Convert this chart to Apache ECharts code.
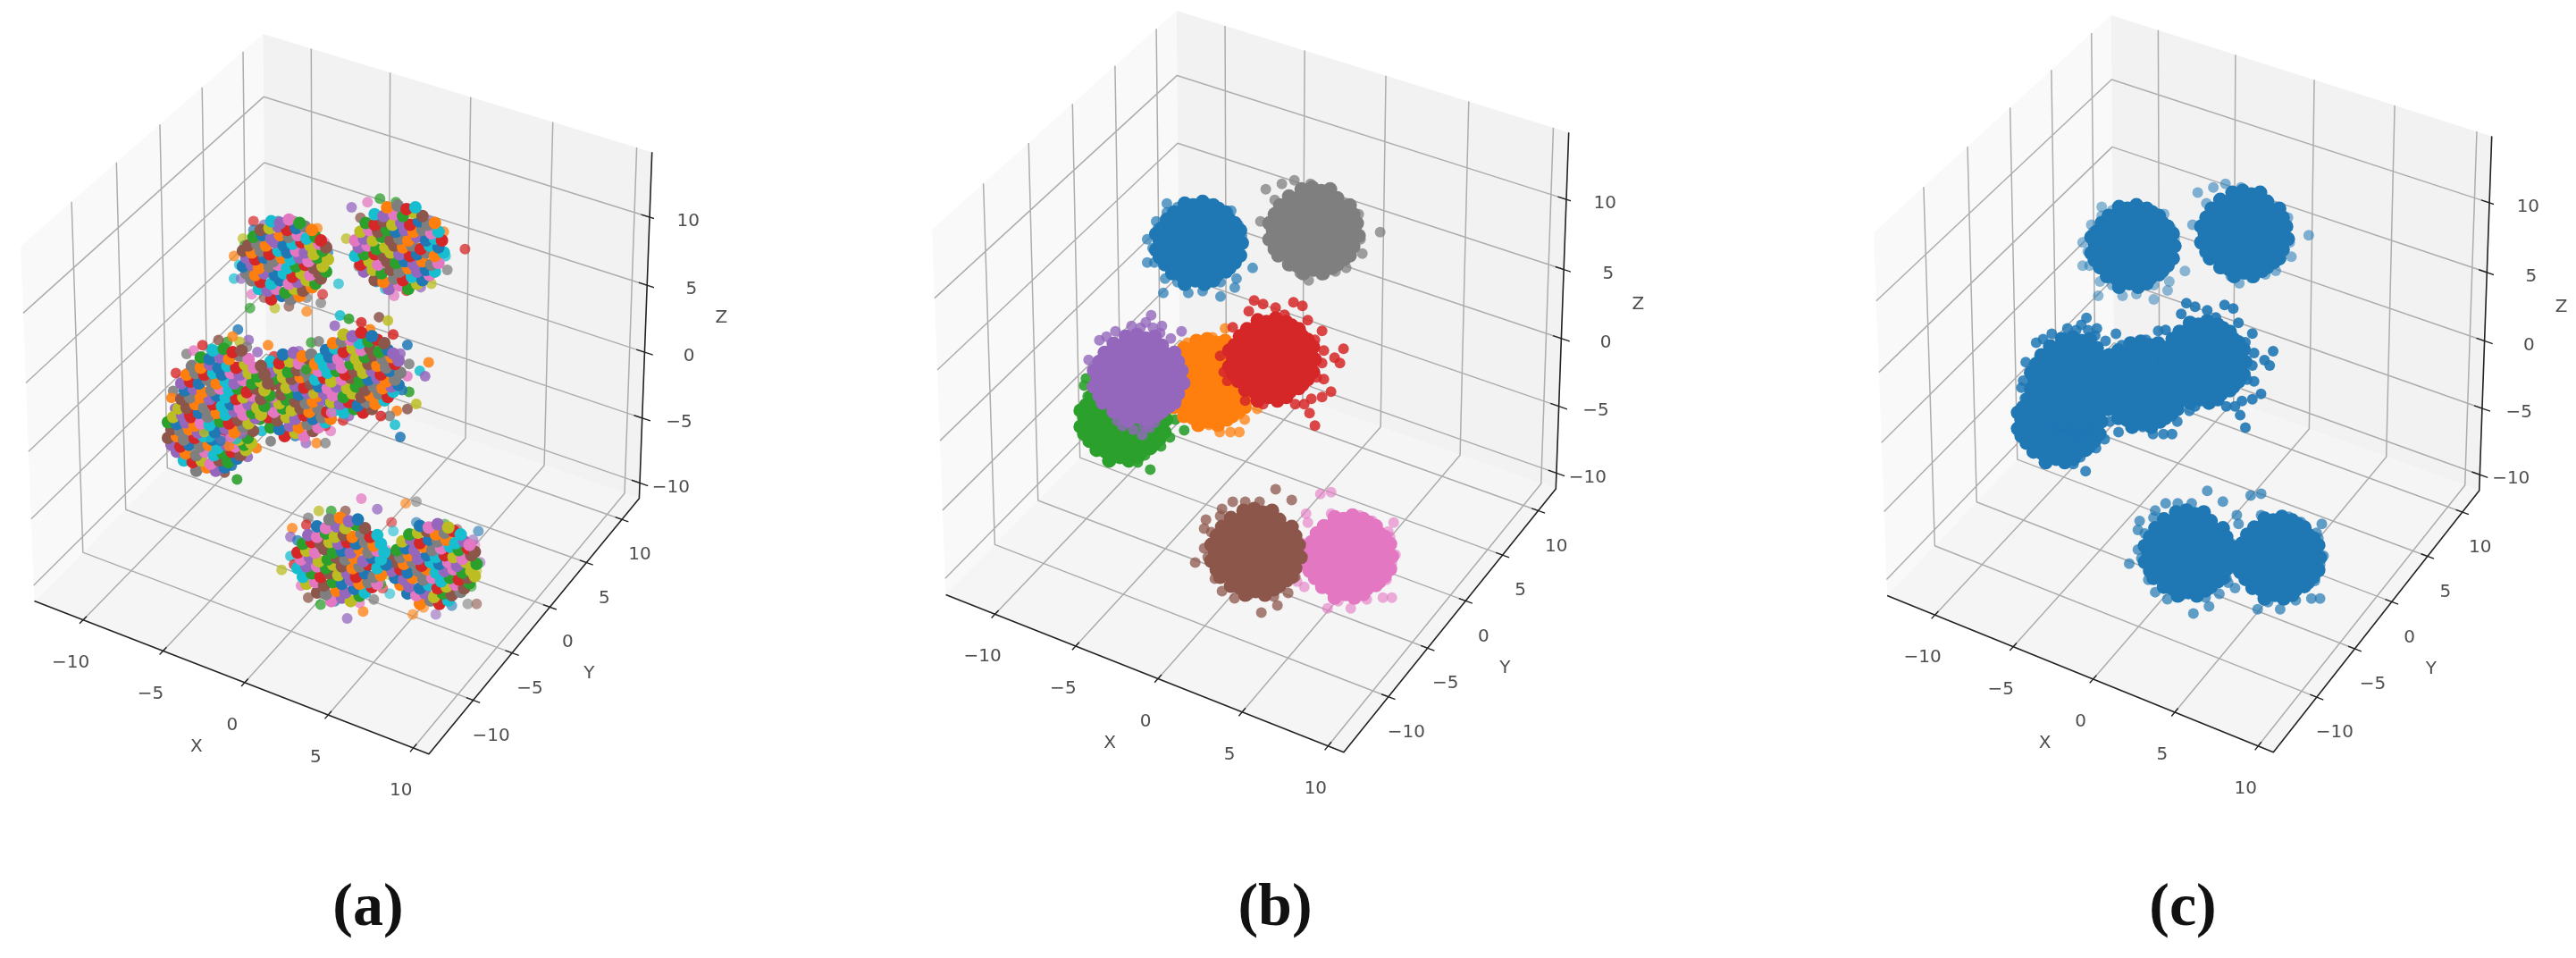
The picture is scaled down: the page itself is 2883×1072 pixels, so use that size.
<!DOCTYPE html>
<html>
<head>
<meta charset="utf-8">
<style>html,body{margin:0;background:#fff}#chart{width:2883px;height:1072px}</style>
<script src="https://cdn.jsdelivr.net/npm/echarts@6/dist/echarts.min.js"></script>
</head>
<body>
<div id="chart"></div>
<script>
// axis limits and ticks
const xLim = [-13.1, 10.9];
const yLim = [-15.5, 12.5];
const zLim = [-11.2, 14.7];
const tickValues = [-10, -5, 0, 5, 10];
const tickLabels = ['\u221210', '\u22125', '0', '5', '10'];
const captions = ['(a)', '(b)', '(c)'];

// cluster centres in data units, in drawing order
const clusterNames = ['blue', 'gray', 'pink', 'brown', 'green', 'orange', 'purple', 'red'];
const clusterCenters = [
  [-7.9, 5, 3.9], [-2.2, 8, 5.3], [6.2, -5, -6.7], [2.1, -8, -6.2],
  [-11.3, 2, -8.8], [-6.3, 3, -4.5], [-7.6, -3, -1.0], [0.1, -2, 2.9]
];

// points around a centre, in tenths of a data unit across and up the view
const coreA = [[-8,-23],[-2,-21],[3,-23],[8,-21],[-15,-17],[-10,-18],[-5,-17],[0,-19],[5,-17],[10,-18],[15,-16],
  [-19,-12],[-14,-13],[-8,-14],[-3,-12],[2,-14],[7,-13],[12,-12],[17,-14],[20,-11],
  [-22,-8],[-17,-9],[-12,-8],[-6,-9],[-1,-8],[4,-10],[9,-8],[14,-9],[19,-8],[23,-7],
  [-24,-4],[-19,-3],[-15,-5],[-9,-4],[-4,-3],[1,-5],[6,-4],[11,-3],[16,-5],[21,-4],
  [-22,1],[-17,0],[-12,1],[-7,-1],[-2,1],[3,0],[8,1],[13,-1],[18,1],[24,0],
  [-24,5],[-19,4],[-14,5],[-9,3],[-4,5],[1,4],[6,5],[11,4],[16,3],[21,5],
  [-21,8],[-16,9],[-11,8],[-6,10],[-1,8],[4,9],[9,10],[14,8],[19,9],[23,7],
  [-18,13],[-13,14],[-8,12],[-3,14],[2,13],[7,14],[12,12],[17,13],[20,11],
  [-14,17],[-9,18],[-4,19],[1,17],[6,18],[11,19],[15,17],[-8,22],[-3,21],[2,23],[8,21]];
const coreB = [[-6,-24],[0,-22],[5,-24],[10,-21],[-14,-19],[-9,-20],[-3,-18],[2,-19],[7,-17],[13,-19],[17,-16],
  [-20,-14],[-15,-13],[-10,-15],[-5,-13],[0,-14],[5,-12],[10,-14],[15,-13],[20,-14],
  [-22,-10],[-17,-8],[-12,-10],[-7,-8],[-2,-9],[3,-8],[8,-10],[13,-8],[18,-10],[22,-9],
  [-25,-5],[-20,-4],[-14,-4],[-9,-5],[-5,-3],[0,-4],[6,-5],[10,-4],[15,-3],[20,-5],[25,-3],
  [-23,0],[-18,1],[-13,-1],[-8,0],[-3,1],[2,0],[7,1],[12,-1],[17,1],[22,0],
  [-25,4],[-20,5],[-15,4],[-10,6],[-5,4],[0,5],[5,4],[10,6],[15,4],[20,5],[24,4],
  [-22,9],[-17,10],[-12,9],[-7,10],[-2,9],[3,10],[8,9],[13,10],[18,8],[22,9],
  [-19,14],[-14,13],[-9,15],[-4,13],[1,14],[6,13],[11,15],[16,13],[20,14],
  [-14,19],[-9,18],[-3,19],[2,18],[8,20],[13,18],[-7,23],[-1,24],[4,22],[9,23]];
const rimBlue = [[-18,22],[-4,22],[5,22],[-29,2],[-29,-11],[-25,-11],[-19,-20],[-20,-28],[-6,-28],[2,-27],[12,-30],[20,-25],[21,-20],[30,-14],[24,4],[22,10],[22,-6],[-24,12],[-23,8],[-12,-22],[12,-22],[18,18],[-12,20],[-18,17],[-26,-3]];
const rimGray = [[-27,23],[-18,26],[-11,28],[-30,5],[-22,17],[25,9],[27,-13],[37,-1],[26,-5],[-13,-20],[-3,-28],[12,-23],[18,-21],[-2,26],[8,22],[-23,-11],[-25,-4],[17,15],[22,4],[-8,-24],[4,-25]];
const rimPink = [[-16,35],[-10,36],[-24,24],[-23,19],[25,19],[23,11],[26,1],[24,-4],[21,-13],[24,-23],[19,-23],[-12,-29],[1,-29],[10,-24],[-25,-17],[-29,-14],[-26,-6],[-27,8],[13,20],[6,23],[-10,24],[22,14],[-6,-25]];
const rimBrown = [[11,35],[20,29],[-13,28],[-6,28],[2,28],[-19,24],[-28,18],[-29,13],[-25,11],[-29,2],[-27,-3],[-34,-6],[-23,-15],[-19,-22],[-12,-26],[-4,-24],[3,-34],[12,-30],[18,-23],[10,-25],[23,6],[22,-14],[-20,20]];
const rimGreen = [[-21,23],[-22,19],[-20,13],[-18,7],[-22,3],[-22,-2],[-13,-13],[-3,-21],[8,-24],[15,-28],[12,-20],[21,-15],[26,-10],[34,-6],[33,6],[29,0],[-8,-17],[-17,8],[3,-23]];
const rimOrange = [[-12,22],[-8,20],[-24,9],[-19,9],[9,30],[-5,-23],[6,-28],[12,-28],[17,-28],[20,-21],[-13,-17],[-10,-18],[27,-15],[-18,0],[-16,-8],[2,25],[17,-18],[0,-24]];
const rimPurple = [[7,35],[13,29],[24,26],[-22,21],[-18,23],[-8,24],[1,28],[-28,10],[-19,7],[-21,0],[18,22],[22,10],[22,-5],[21,-13],[2,-32],[6,-28],[-6,-23],[-14,-15],[-11,18],[8,28],[-4,29],[4,31],[12,25],[-13,26],[-9,-27],[-3,-29],[3,-27],[9,-25],[-12,-24]];
const rimRed = [[-10,33],[-5,31],[2,29],[12,32],[17,30],[-13,27],[20,22],[28,16],[29,5],[40,6],[35,1],[38,-2],[28,-2],[29,-11],[33,-18],[28,-21],[22,-22],[18,-25],[13,-25],[21,-30],[24,-37],[-15,-23],[-5,-25],[-25,-12],[-29,2],[-27,-7],[-22,18],[7,25],[24,11],[25,-10]];
const clusterCores = [coreA, coreB, coreA, coreB, coreA, coreB, coreB, coreA];
const clusterRims = [rimBlue, rimGray, rimPink, rimBrown, rimGreen, rimOrange, rimPurple, rimRed];
// the label of each point in panel (a), repeated along a cluster
const pointLabels = [3,0,7,1,9,4,6,2,8,5,1,7,3,9,0,6,4,8,2,5,7,1,4,0,9,3,8,6,5,2,0,4,1,7,6,9,2,3,5,8,4];

const tab10 = ['#1f77b4','#ff7f0e','#2ca02c','#d62728','#9467bd','#8c564b','#e377c2','#7f7f7f','#bcbd22','#17becf'];
const clusterColors = ['#1f77b4','#7f7f7f','#e377c2','#8c564b','#2ca02c','#ff7f0e','#9467bd','#d62728'];
const rimAlpha = [
  [.7,.75,.6,.75,.9,.75,.8,.85],
  [.7,.75,.6,.75,.9,.75,.8,.85],
  [.5,.55,.7,.7,.85,.85,.85,.9]
];
const coreSize = [14, 16, 16];
const rimSize = 12;
// pixel box of each 3d plot
const panels = [
  {left: 23, top: 38, width: 707, height: 806, cx: 407},
  {left: 1043, top: 12, width: 713, height: 830, cx: 1422},
  {left: 2097, top: 17, width: 692, height: 825, cx: 2438}
];

// same camera as a default mplot3d view: elev 30, azim -60, box 4:4:3, dist 10
const boxSize = [1.1431, 1.1431, 0.8573];
const camU = [0.866, 0.5, 0];
const camV = [-0.25, 0.433, 0.866];
const camW = [0.433, -0.75, 0.5];
function dot(a, b) { return a[0]*b[0] + a[1]*b[1] + a[2]*b[2]; }
function project(p) {
  const q = [
    ((p[0]-xLim[0])/(xLim[1]-xLim[0]) - 0.5) * boxSize[0],
    ((p[1]-yLim[0])/(yLim[1]-yLim[0]) - 0.5) * boxSize[1],
    ((p[2]-zLim[0])/(zLim[1]-zLim[0]) - 0.5) * boxSize[2]
  ];
  const d = 10 - dot(camW, q);
  return [dot(camU, q)/d, dot(camV, q)/d];
}
const viewExtentU = [-0.0813, 0.0784];
const viewExtentV = [-0.0799, 0.0728];
// one tenth of a unit of the point offsets, in view coordinates
const stepU = 0.000448;
const stepV = 0.000368;

const [x0, x1] = xLim, [y0, y1] = yLim, [z0, z1] = zLim;
const panes = [
  {color: '#f9f9f9', pts: [[x0,y0,z0],[x0,y1,z0],[x0,y1,z1],[x0,y0,z1]]},
  {color: '#f2f2f2', pts: [[x0,y1,z0],[x1,y1,z0],[x1,y1,z1],[x0,y1,z1]]},
  {color: '#f5f5f5', pts: [[x0,y0,z0],[x1,y0,z0],[x1,y1,z0],[x0,y1,z0]]}
];

function path(list) {
  // polylines in 3d to one line series, with gaps between them
  const out = [];
  list.forEach(line => {
    line.forEach(p => out.push(project(p)));
    out.push(['-', '-']);
  });
  return out;
}
const gridPaths = [], tickPaths = [];
tickValues.forEach(t => {
  gridPaths.push([[t,y0,z0],[t,y1,z0],[t,y1,z1]]);
  gridPaths.push([[x1,t,z0],[x0,t,z0],[x0,t,z1]]);
  gridPaths.push([[x0,y0,t],[x0,y1,t],[x1,y1,t]]);
  tickPaths.push([[t,y0-0.4,z0],[t,y0+0.4,z0]]);
  tickPaths.push([[x1-0.4,t,z0],[x1+0.4,t,z0]]);
  tickPaths.push([[x1-0.5,y1,t],[x1+0.5,y1,t]]);
});
const axisPaths = [[[x0,y0,z0],[x1,y0,z0],[x1,y1,z0],[x1,y1,z1]]];

function labelSeries(i, name, pts, texts, label) {
  return {
    type: 'scatter', name: name, xAxisIndex: i, yAxisIndex: i, symbolSize: 0, silent: true, z: 6,
    data: pts.map((p, k) => ({value: project(p), name: texts[k]})),
    label: Object.assign({show: true, position: 'inside', formatter: '{b}', fontFamily: 'DejaVu Sans',
      fontSize: 20, color: '#222', verticalAlign: 'middle'}, label)
  };
}

const series = [];
panels.forEach((panel, i) => {
  series.push({
    type: 'custom', xAxisIndex: i, yAxisIndex: i, silent: true, z: 1, clip: false,
    data: panes.map((_, k) => [k, 0]),
    encode: {x: -1, y: -1},
    renderItem: (params, api) => {
      const pane = panes[params.dataIndex];
      return {
        type: 'polygon',
        shape: {points: pane.pts.map(p => api.coord(project(p)))},
        style: {fill: pane.color}
      };
    }
  });
  [[gridPaths, '#adadad', 1.5, 2], [tickPaths, '#222', 1.4, 3], [axisPaths, '#222', 1.6, 3]].forEach(s => {
    series.push({
      type: 'line', xAxisIndex: i, yAxisIndex: i, data: path(s[0]), showSymbol: false, silent: true,
      clip: false, z: s[3], lineStyle: {color: s[1], width: s[2]}
    });
  });
  clusterNames.forEach((name, c) => {
    const center = project(clusterCenters[c]);
    const toItem = (o, k, alpha) => {
      const color = i === 0 ? tab10[pointLabels[(k + c*5) % pointLabels.length]] : (i === 1 ? clusterColors[c] : tab10[0]);
      return {
        value: [center[0] + o[0]*stepU, center[1] + o[1]*stepV],
        itemStyle: {color: color, opacity: alpha}
      };
    };
    series.push({
      type: 'scatter', name: name + ' rim', xAxisIndex: i, yAxisIndex: i, symbolSize: rimSize, silent: true, z: 4,
      data: clusterRims[c].map((o, k) => toItem(o, k, rimAlpha[i][c]))
    });
    series.push({
      type: 'scatter', name: name, xAxisIndex: i, yAxisIndex: i, symbolSize: coreSize[i], silent: true, z: 4,
      data: clusterCores[c].map((o, k) => toItem(o, k, 1))
    });
  });
  series.push(labelSeries(i, 'x ticks', tickValues.map(t => [t,y0,z0]), tickLabels, {align: 'center', offset: [-14, 48]}));
  series.push(labelSeries(i, 'y ticks', tickValues.map(t => [x1,t,z0]), tickLabels, {align: 'center', offset: [20, 40]}));
  series.push(labelSeries(i, 'z ticks', tickValues.map(t => [x1,y1,t]), tickLabels, {align: 'right', offset: [56, 5]}));
  series.push(labelSeries(i, 'x name', [[0,y0,z0]], ['X'], {align: 'center', offset: [-54, 72]}));
  series.push(labelSeries(i, 'y name', [[x1,0,z0]], ['Y'], {align: 'center', offset: [44, 75]}));
  series.push(labelSeries(i, 'z name', [[x1,y1,0]], ['Z'], {align: 'center', offset: [86, -38]}));
});

const chart = echarts.init(document.getElementById('chart'));
chart.setOption({
  animation: false,
  backgroundColor: '#fff',
  title: panels.map((p, i) => ({
    text: captions[i], left: p.cx, top: 978, textAlign: 'center',
    textStyle: {fontFamily: 'Liberation Serif', fontSize: 68, fontWeight: 'bold', color: '#111'}
  })),
  grid: panels.map(p => ({left: p.left, top: p.top, width: p.width, height: p.height})),
  xAxis: panels.map((p, i) => ({type: 'value', gridIndex: i, show: false, min: viewExtentU[0], max: viewExtentU[1]})),
  yAxis: panels.map((p, i) => ({type: 'value', gridIndex: i, show: false, min: viewExtentV[0], max: viewExtentV[1]})),
  series: series
});
</script>
</body>
</html>
